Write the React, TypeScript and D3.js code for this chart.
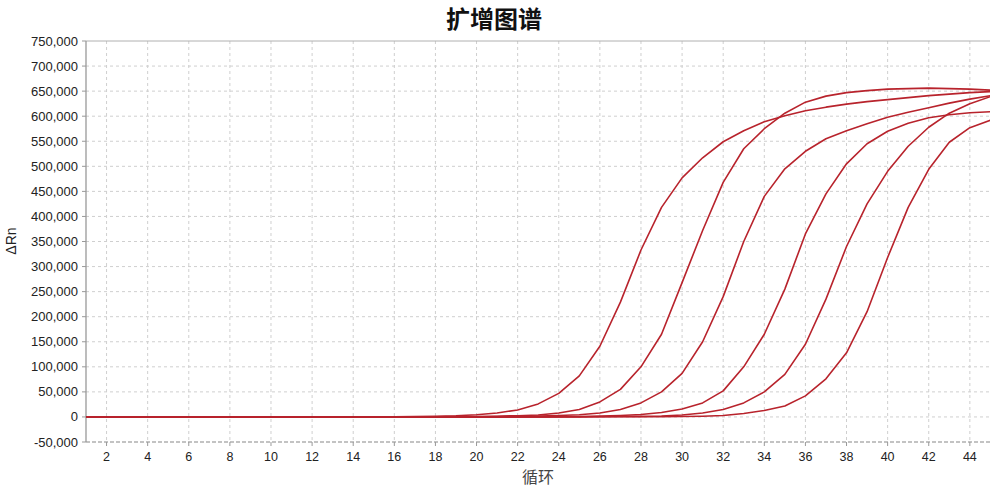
import React from "react";
import * as d3 from "d3";

const cycles = [1,2,3,4,5,6,7,8,9,10,11,12,13,14,15,16,17,18,19,20,21,22,23,24,25,26,27,28,29,30,31,32,33,34,35,36,37,38,39,40,41,42,43,44,45];

const curve1 = [500,300,200,100,-300,0,200,300,200,100,0,-300,-200,-100,0,300,800,1500,2500,4500,8000,14000,26000,47000,82000,141000,229000,333000,418000,477000,517000,549000,571000,589000,601000,611000,618000,624000,629000,633000,637000,641000,644000,647000,649000];
const curve2 = [300,200,100,0,-200,-100,100,200,100,0,-100,-200,-300,-200,-100,0,100,300,600,1000,1500,2500,4000,8000,15000,30000,55000,100000,165000,268000,372000,468000,535000,575000,606000,628000,640000,647000,651000,654000,655000,656000,655000,654000,652000];
const curve3 = [200,100,0,-100,-200,0,100,200,100,0,-200,-300,-200,-300,-400,-300,-200,-100,200,500,800,1200,2000,3000,4500,8000,15000,28000,50000,87000,150000,240000,350000,440000,495000,530000,555000,571000,585000,598000,608000,617000,626000,634000,641000];
const curve4 = [400,300,100,0,-100,-200,0,100,0,-100,-200,-400,-300,-300,-500,-400,-300,-200,-100,0,100,200,300,500,1000,1800,3000,5000,9000,16000,28000,52000,100000,165000,255000,365000,445000,505000,545000,570000,586000,597000,603000,607000,609000];
const curve5 = [100,0,-100,-200,-300,-200,-100,0,100,0,-100,-200,-400,-500,-600,-500,-400,-300,-200,-100,0,100,200,300,400,500,800,1200,2000,4000,8000,15000,28000,50000,85000,145000,235000,340000,425000,490000,540000,578000,606000,625000,639000];
const curve6 = [0,-100,-200,-300,-400,-300,-200,-100,0,-100,-200,-300,-500,-600,-700,-600,-500,-400,-300,-200,-100,0,100,150,200,250,280,300,500,800,1500,3000,7000,13000,22000,42000,76000,128000,210000,318000,418000,494000,548000,577000,592000];
const seriesList = [curve1, curve2, curve3, curve4, curve5, curve6];

const yTicks = [-50000,0,50000,100000,150000,200000,250000,300000,350000,400000,450000,500000,550000,600000,650000,700000,750000];
const xTicks = [2,4,6,8,10,12,14,16,18,20,22,24,26,28,30,32,34,36,38,40,42,44];

const titleText = "扩增图谱";
const xLabel = "循环";
const yLabel = "ΔRn";

export default function App() {
  const W = 990, H = 488;
  const left = 86, right = 990.4, top = 41, bottom = 442;
  const x = d3.scaleLinear().domain([1, 45]).range([left, right]);
  const y = d3.scaleLinear().domain([-50000, 750000]).range([bottom, top]);
  const fmt = (v: number) => d3.format(",")(v).replace("−", "-");
  const line = d3.line<number>().x((_, i) => x(cycles[i])).y((d) => y(d));
  const tickFont = "'Liberation Sans', Arial, sans-serif";
  const cjk = "'Noto Sans CJK SC', sans-serif";

  return (
    <svg width={W} height={H} style={{ position: "absolute", left: 0, top: 0, background: "#fff" }}>
      <defs>
        <clipPath id="plotclip">
          <rect x={left} y={top} width={W - left} height={bottom - top} />
        </clipPath>
      </defs>
      <text x={494} y={28} textAnchor="middle" fontFamily={cjk} fontWeight="bold" fontSize={24} fill="#111">{titleText}</text>

      {/* horizontal grid */}
      {yTicks.filter((t) => t !== -50000 && t !== 750000).map((t) => (
        <line key={"hg" + t} x1={left} x2={W} y1={y(t)} y2={y(t)} stroke="#cfcfcf" strokeDasharray="3,3" strokeWidth={1} />
      ))}
      {/* vertical grid */}
      {xTicks.map((t) => (
        <line key={"vg" + t} x1={x(t)} x2={x(t)} y1={top} y2={bottom} stroke="#cfcfcf" strokeDasharray="3,3" strokeWidth={1} />
      ))}
      {/* top border */}
      <line x1={left} x2={W} y1={top} y2={top} stroke="#b0b0b0" strokeWidth={1} />
      {/* bottom axis */}
      <line x1={left} x2={W} y1={bottom} y2={bottom} stroke="#888" strokeDasharray="4,2" strokeWidth={1.2} />
      {/* left axis */}
      <line x1={left} x2={left} y1={top} y2={bottom} stroke="#999" strokeWidth={1.3} />

      {/* y ticks */}
      {yTicks.map((t) => (
        <g key={"yt" + t}>
          <line x1={left - 4} x2={left} y1={y(t)} y2={y(t)} stroke="#999" />
          <text x={78} y={y(t)} dy="0.35em" textAnchor="end" fontFamily={tickFont} fontSize={13} fill="#222">{fmt(t)}</text>
        </g>
      ))}
      {/* x ticks */}
      {xTicks.map((t) => (
        <g key={"xt" + t}>
          <line x1={x(t)} x2={x(t)} y1={bottom} y2={bottom + 4} stroke="#999" />
          <text x={x(t)} y={461} textAnchor="middle" fontFamily={tickFont} fontSize={12.5} fill="#222">{t}</text>
        </g>
      ))}

      <text x={538} y={483} textAnchor="middle" fontFamily={cjk} fontSize={16} fill="#444">{xLabel}</text>
      <text transform={`translate(16,241) rotate(-90)`} textAnchor="middle" fontFamily={tickFont} fontSize={14} fill="#222">{yLabel}</text>

      <g clipPath="url(#plotclip)">
        {seriesList.map((s, i) => (
          <path key={"s" + i} d={line(s) || ""} fill="none" stroke="#b8232c" strokeWidth={1.6} strokeLinejoin="round" />
        ))}
      </g>
    </svg>
  );
}
